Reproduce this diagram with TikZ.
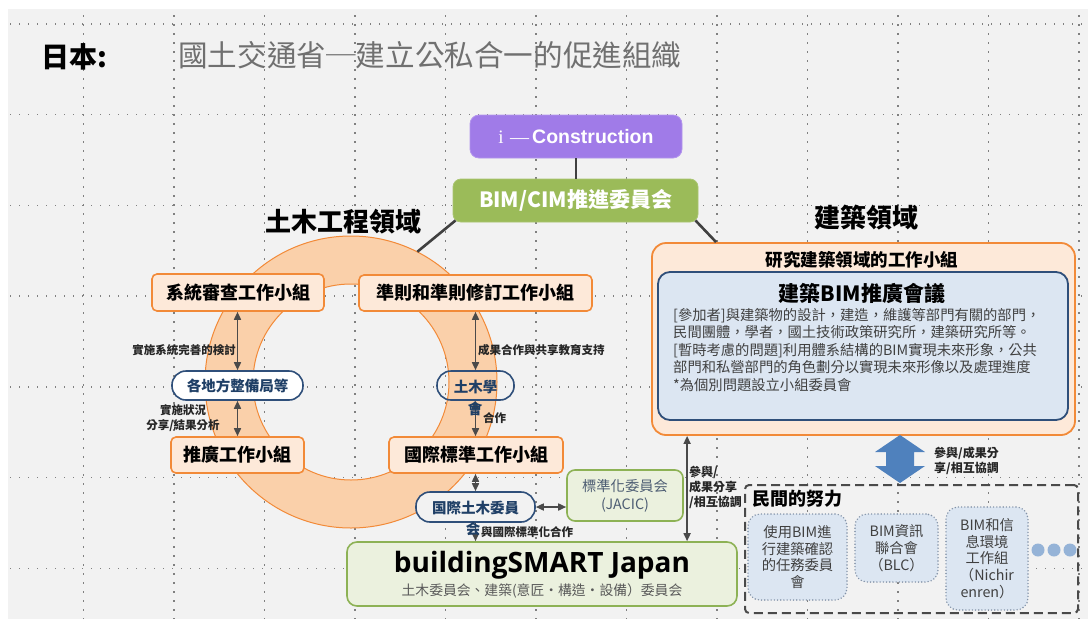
\documentclass[tikz,border=0pt]{standalone}
\usepackage{fontspec}
\setmainfont{Noto Sans CJK TC}
\newfontfamily\lat{Liberation Sans}
\newfontfamily\latserif{Liberation Serif}
\newfontfamily\osans{Open Sans}
\usetikzlibrary{calc,arrows.meta}
\definecolor{bgc}{HTML}{F2F2F2}
\definecolor{gridc}{HTML}{808080}
\definecolor{purp}{HTML}{A07BE8}
\definecolor{greenA}{HTML}{9BBB59}
\definecolor{greenB}{HTML}{8DB255}
\definecolor{greenfill}{HTML}{EBF1DE}
\definecolor{orangeB}{HTML}{F28A38}
\definecolor{ringfill}{HTML}{FAD0AA}
\definecolor{boxfill}{HTML}{FDE9D9}
\definecolor{navyB}{HTML}{2F4F7A}
\definecolor{navyT}{HTML}{1F3F66}
\definecolor{bluefill}{HTML}{DCE6F2}
\definecolor{connc}{HTML}{404040}
\definecolor{arrc}{HTML}{4A4A4A}
\definecolor{lblc}{HTML}{262626}
\definecolor{txtc}{HTML}{404040}
\definecolor{titc}{HTML}{707070}
\definecolor{jacicT}{HTML}{4D5D73}
\definecolor{subc}{HTML}{595959}
\definecolor{bluearr}{HTML}{4F81BD}
\definecolor{dotsc}{HTML}{95B3D7}
\definecolor{dashc}{HTML}{4A4A4A}
\definecolor{dotc}{HTML}{8292A8}
\begin{document}
\begin{tikzpicture}[x=1pt,y=-1pt,
  wg/.style={draw=orangeB, fill=boxfill, line width=1.6pt, rounded corners=5pt, inner sep=0pt,
    font=\fontsize{18}{20}\selectfont\bfseries},
  pill/.style={draw=navyB, line width=1.6pt, rounded corners=14pt, inner sep=0pt},
  pilltext/.style={inner sep=0pt, text=navyT, font=\fontsize{14.5}{16}\selectfont\bfseries},
  lbl/.style={inner sep=0pt, text=lblc, font=\fontsize{11.5}{14.5}\selectfont\bfseries},
  lblb/.style={inner sep=0pt, text=lblc, font=\fontsize{12}{15}\selectfont\bfseries, align=left},
  conn/.style={draw=connc, line width=2.6pt},
  arr/.style={draw=arrc, line width=1.6pt, {Triangle[length=8pt,width=7pt]}-{Triangle[length=8pt,width=7pt]}},
  arrone/.style={draw=arrc, line width=1.6pt, -{Triangle[length=8pt,width=7pt]}},
  dbox/.style={draw=dotc, fill=bluefill, line width=1.6pt, line cap=round, dash pattern=on 0pt off 3.2pt,
    rounded corners=12pt, inner sep=0pt, align=center, text=txtc, font=\fontsize{14.3}{16.7}\selectfont},
  heading/.style={inner sep=0pt, font=\fontsize{26}{28}\selectfont\bfseries},
  gridline/.style={draw=gridc, line width=1.4pt, dash pattern=on 1.4pt off 7.6pt},
  vgridline/.style={draw=gridc, line width=1.6pt, dash pattern=on 1.6pt off 7.4pt}
]
\useasboundingbox (0,0) rectangle (1088,619);
\fill[white] (0,0) rectangle (1088,619);
\fill[bgc] (8,9) rectangle (1088,619);
% guide grid
\draw[gridline] (10,24) -- (1088,24);
\draw[gridline] (10,114.7) -- (1088,114.7);
\draw[gridline] (10,205.4) -- (1088,205.4);
\draw[gridline] (10,296.1) -- (1088,296.1);
\draw[gridline] (10,386.8) -- (1088,386.8);
\draw[gridline] (10,477.5) -- (1088,477.5);
\draw[gridline] (10,568.2) -- (1088,568.2);
\draw[vgridline] (83.5,15) -- (83.5,619);
\draw[vgridline] (174,15) -- (174,619);
\draw[vgridline] (264.5,15) -- (264.5,619);
\draw[vgridline] (355,15) -- (355,619);
\draw[vgridline] (445.5,15) -- (445.5,619);
\draw[vgridline] (536,15) -- (536,619);
\draw[vgridline] (626.5,15) -- (626.5,619);
\draw[vgridline] (717,15) -- (717,619);
\draw[vgridline] (807.5,15) -- (807.5,619);
\draw[vgridline] (898,15) -- (898,619);
\draw[vgridline] (988.5,15) -- (988.5,619);
\draw[vgridline] (1079,15) -- (1079,619);

% title
\node[anchor=west, inner sep=0pt, font=\fontsize{28}{30}\selectfont\bfseries] (jp) at (41,57) {日本:};
\node[anchor=west, inner sep=0pt, text=titc, font=\fontsize{29.6}{32}\selectfont] (tt) at (178,55) {國土交通省─建立公私合一的促進組織};

% ring
\fill[ringfill, even odd rule] (351,382) circle[radius=146pt] (351,382) circle[radius=98pt];
\draw[orangeB, line width=1pt] (351,382) circle[radius=146pt];
\draw[orangeB, line width=1pt] (351,382) circle[radius=98pt];
\node[circle, minimum size=292pt, inner sep=0pt] (ring) at (351,382) {};

% top nodes
\node[fill=purp, draw=purp!80!white, line width=0.8pt, rounded corners=9pt, minimum width=212pt, minimum height=43pt, inner sep=0pt, text=white] (ic) at (576,136.5)
  {{\latserif\fontsize{19}{20}\selectfont i\,\,—\,}{\lat\bfseries\fontsize{19.5}{20}\selectfont Construction}};
\node[fill=greenA, draw=greenA!85!white, line width=0.8pt, rounded corners=8pt, minimum width=245pt, minimum height=43pt, inner sep=0pt, text=white,
  font=\fontsize{21}{22}\selectfont\bfseries] (bim) at (575.5,200.5) {BIM/CIM推進委員会};

\node[heading] (civh) at (343,222) {土木工程領域};
\node[heading] (archh) at (866,218) {建築領域};

% civil working groups
\node[wg, minimum width=172pt, minimum height=37pt] (sys) at (238,292.5) {系統審查工作小組};
\node[wg, minimum width=233pt, minimum height=36pt] (zz) at (475.5,293) {準則和準則修訂工作小組};
\node[wg, minimum width=133pt, minimum height=36pt] (tg) at (237.5,455) {推廣工作小組};
\node[wg, minimum width=174pt, minimum height=36pt] (gj) at (476,455) {國際標準工作小組};

\node[pill, fill=white, minimum width=131pt, minimum height=29pt, text=navyT, font=\fontsize{14.5}{16}\selectfont\bfseries] (gd) at (237.5,385.5) {各地方整備局等};
\node[pill, minimum width=77pt, minimum height=29pt] (tm) at (475.5,385.5) {};
\node[pill, fill=bgc, minimum width=119pt, minimum height=30pt] (gt) at (475.5,507) {};

\node[draw=greenB, fill=greenfill, line width=1.6pt, rounded corners=8pt, minimum width=116pt, minimum height=51pt, inner sep=0pt,
  align=center, text=jacicT, font=\fontsize{14.3}{18}\selectfont] (jacic) at (625,495.5) {標準化委員会\\(JACIC)};

\node[draw=greenB, fill=greenfill, line width=1.6pt, rounded corners=10pt, minimum width=390pt, minimum height=64pt, inner sep=0pt] (bs) at (542,574) {};
\node[inner sep=0pt, font=\osans\bfseries\fontsize{28}{30}\selectfont] (bst) at (542,565) {buildingSMART Japan};
\node[inner sep=0pt, text=subc, font=\fontsize{13.8}{16}\selectfont] (bss) at (542,591) {土木委員会、建築(意匠・構造・設備）委員会};

% architecture side
\node[draw=orangeB, fill=boxfill, line width=1.8pt, rounded corners=14pt, minimum width=423pt, minimum height=192pt, inner sep=0pt] (jz) at (863.5,339) {};
\node[inner sep=0pt, font=\fontsize{17.5}{20}\selectfont\bfseries] (jzt) at (862,260) {研究建築領域的工作小組};
\node[draw=navyB, fill=bluefill, line width=1.8pt, rounded corners=12pt, minimum width=410pt, minimum height=148pt, inner sep=0pt] (jb) at (863,346) {};
\node[inner sep=0pt, font=\fontsize{21}{23}\selectfont\bfseries] (jbt) at (862,293) {建築BIM推廣會議};
\node[anchor=north west, inner sep=0pt, align=left, text=txtc, font=\fontsize{14.3}{17.5}\selectfont] (jbb) at (673,308)
 {{[}參加者{]}與建築物的設計，建造，維護等部門有關的部門，\\
  民間團體，學者，國土技術政策研究所，建築研究所等。\\
  {[}暫時考慮的問題{]}利用體系結構的BIM實現未來形象，公共\\
  部門和私營部門的角色劃分以實現未來形像以及處理進度\\
  *為個別問題設立小組委員會};

% private sector
\node[draw=dashc, line width=2pt, dash pattern=on 9pt off 5pt, rounded corners=4pt, minimum width=333pt, minimum height=128pt, inner sep=0pt] (mj) at (911.5,549) {};
\node[anchor=west, inner sep=0pt, font=\fontsize{18}{20}\selectfont\bfseries] (mjt) at (752,499) {民間的努力};
\node[dbox, minimum width=99pt, minimum height=86pt] (p1) at (797.5,557) {使用BIM進\\行建築確認\\的任務委員\\會};
\node[dbox, minimum width=83pt, minimum height=68pt] (p2) at (896.5,548) {BIM資訊\\聯合會\\（BLC）};
\node[dbox, minimum width=82pt, minimum height=103pt] (p3) at (987,558.5) {BIM和信\\息環境\\工作組\\（Nichir\\enren）};
\fill[dotsc] (1038,550) circle[radius=6.5pt];
\fill[dotsc] (1054,550) circle[radius=6.5pt];
\fill[dotsc] (1070,550) circle[radius=6.5pt];

% connectors
\coordinate (jzr) at ($(jz.north west)+(65,0)$);
\coordinate (jzb) at ($(jz.south west)+(36,0)$);
\draw[conn] (ic.south) -- (ic.south |- bim.north);
\draw[conn] ([xshift=3pt,yshift=2pt]bim.south west) -- (ring.63);
\draw[conn] ([xshift=-3pt,yshift=2pt]bim.south east) -- (jzr);

\draw[arr] (sys.south -| gd.north) -- (gd.north);
\draw[arr] (gd.south) -- (gd.south |- tg.north);
\draw[arr] (zz.south -| tm.north) -- (tm.north);
\draw[arr] (tm.south) -- (tm.south |- gj.north);
\draw[arr] (gj.south -| gt.north) -- (gt.north);
\draw[arrone] (gt.south) -- (gt.south |- bs.north);
\draw[arr] (gt.east) -- (gt.east -| jacic.west);
\draw[arr] (jzb) -- (jzb |- bs.north);

% big blue double arrow between jz and mj
\fill[bluearr] (900,435) -- (925,452) -- (914,452) -- (914,466) -- (925,466) -- (900,483)
  -- (875,466) -- (886,466) -- (886,452) -- (875,452) -- cycle;

% texts inside / overflowing pills
\node[pilltext] (tmt) at (475.5,387) {土木學};
\node[pilltext] (tmt2) at (475,409) {會};
\node[pilltext] (gtt) at (475.5,508) {国際土木委員};
\node[pilltext] (gtt2) at (473,529) {会};

% labels
\node[lbl, anchor=east] (l1) at (236,350) {實施系統完善的検討};
\node[lbl, align=center] (l2) at (183,418) {實施狀況\\分享/結果分析};
\node[lbl, anchor=west] (l3) at (478,350) {成果合作與共享教育支持};
\node[lbl, anchor=west] (l4) at (483,418) {合作};
\node[lbl, anchor=west] (l5) at (481,532) {與國際標準化合作};
\node[lblb, anchor=north west] (l6) at (689,466) {參與/\\成果分享\\/相互協調};
\node[lblb, anchor=west] (l7) at (934,461) {參與/成果分\\享/相互協調};
\end{tikzpicture}
\end{document}
